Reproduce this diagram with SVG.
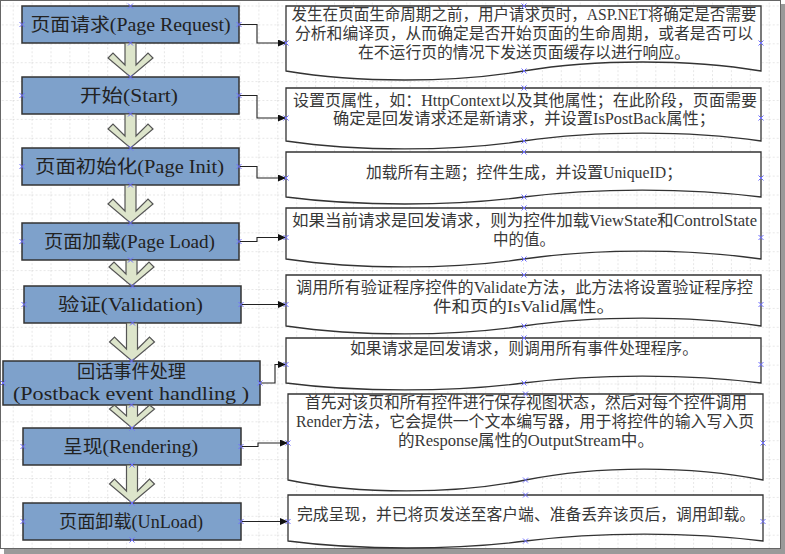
<svg xmlns="http://www.w3.org/2000/svg" xmlns:xlink="http://www.w3.org/1999/xlink" width="785" height="554" viewBox="0 0 785 554">
<defs>
<style>
.lbox{fill:#7ea1cb;stroke:#333;stroke-width:1.5}
.doc{fill:#fff;stroke:#333;stroke-width:1.3}
.barrow{fill:#dde5cb;stroke:#555;stroke-width:1.2}
.conn{fill:none;stroke:#222;stroke-width:1.1}
.lt{font-family:"Liberation Serif","Noto Sans CJK SC",serif;font-size:18px;fill:#222;text-anchor:middle}
.rt{font-family:"Liberation Serif","Noto Sans CJK SC",serif;font-size:16px;fill:#383838;text-anchor:middle}
.mk{fill:none;stroke:#6f6fff;stroke-width:1}
</style>
<pattern id="grid" patternUnits="userSpaceOnUse" x="12.7" y="5.5" width="18.9" height="18.9">
<path d="M0,0 H18.9 M0,0 V18.9" fill="none" stroke="#cfcfcf" stroke-width="1" stroke-dasharray="2 2"/>
</pattern>
<marker id="ah" markerUnits="userSpaceOnUse" markerWidth="9" markerHeight="8" refX="8" refY="3.5" orient="auto">
<path d="M0,0 L8,3.5 L0,7 z" fill="#111"/>
</marker>
<path id="x" d="M-2.5,-2.5 L2.5,2.5 M-2.5,2.5 L2.5,-2.5"/>
</defs>

<rect x="4" y="4" width="781" height="550" fill="#9a9a9a"/>
<rect x="0.5" y="0.5" width="780" height="548" fill="#fff" stroke="#666"/>
<rect x="1" y="1" width="779" height="547" fill="url(#grid)"/>

<g id="connectors">
<path class="conn" marker-end="url(#ah)" d="M239,24.5 H257 V43 H286"/>
<path class="conn" marker-end="url(#ah)" d="M239,95.5 H257 V118 H286"/>
<path class="conn" marker-end="url(#ah)" d="M239,166.5 H257 V178 H286"/>
<path class="conn" marker-end="url(#ah)" d="M239,241.5 H257 V237.5 H286"/>
<path class="conn" marker-end="url(#ah)" d="M241,304.5 H286"/>
<path class="conn" marker-end="url(#ah)" d="M260,383 H275 V364.5 H286"/>
<path class="conn" marker-end="url(#ah)" d="M241,446.5 H258 V443 H288"/>
<path class="conn" marker-end="url(#ah)" d="M241,521.5 H288"/>
</g>

<g id="step1"><rect class="lbox" x="22" y="6" width="217" height="37"/><text class="lt" x="130.5" y="31" textLength="200" lengthAdjust="spacingAndGlyphs">页面请求(Page Request)</text></g>
<g id="step2"><rect class="lbox" x="22" y="77" width="217" height="37"/><text class="lt" x="129" y="102" textLength="98" lengthAdjust="spacingAndGlyphs">开始(Start)</text></g>
<g id="step3"><rect class="lbox" x="22" y="148" width="217" height="37"/><text class="lt" x="129.5" y="172.5" textLength="189" lengthAdjust="spacingAndGlyphs">页面初始化(Page Init)</text></g>
<g id="step4"><rect class="lbox" x="22" y="223" width="217" height="37"/><text class="lt" x="129.5" y="247.5" textLength="171" lengthAdjust="spacingAndGlyphs">页面加载(Page Load)</text></g>
<g id="step5"><rect class="lbox" x="24" y="286" width="217" height="37"/><text class="lt" x="130.5" y="310.5" textLength="145" lengthAdjust="spacingAndGlyphs">验证(Validation)</text></g>
<g id="step6"><rect class="lbox" x="3" y="361" width="257" height="44"/><text class="lt" x="131.5" y="378" textLength="109" lengthAdjust="spacingAndGlyphs">回话事件处理</text><text class="lt" x="131" y="399.5" textLength="236" lengthAdjust="spacingAndGlyphs">(Postback event handling )</text></g>
<g id="step7"><rect class="lbox" x="23" y="428" width="218" height="37"/><text class="lt" x="130.5" y="453" textLength="135" lengthAdjust="spacingAndGlyphs">呈现(Rendering)</text></g>
<g id="step8"><rect class="lbox" x="23" y="503" width="218" height="37"/><text class="lt" x="131" y="527.5" textLength="144" lengthAdjust="spacingAndGlyphs">页面卸载(UnLoad)</text></g>

<g id="flow-arrows">
<polygon class="barrow" points="125,43 125,65 113,53 108,58 130.5,77 153,58 148,53 136,65 136,43"/>
<polygon class="barrow" points="125,114 125,136 113,124 108,129 130.5,148 153,129 148,124 136,136 136,114"/>
<polygon class="barrow" points="125,185 125,211 113,199 108,204 130.5,223 153,204 148,199 136,211 136,185"/>
<polygon class="barrow" points="126,260 126,274 114,262 109,267 131.5,286 154,267 149,262 137,274 137,260"/>
<polygon class="barrow" points="126.5,323 126.5,349 114.5,337 109.5,342 132,361 154.5,342 149.5,337 137.5,349 137.5,323"/>
<polygon class="barrow" points="126.5,405 126.5,416 114.5,405 109.5,409 132,428 154.5,409 149.5,405 137.5,416 137.5,405"/>
<polygon class="barrow" points="126.5,465 126.5,491 114.5,479 109.5,484 132,503 154.5,484 149.5,479 137.5,491 137.5,465"/>
</g>

<g id="desc1"><path class="doc" d="M286,6 H761 V71 C689.75,59 594.75,59 523.5,71 C452.25,83 357.25,83 286,71 Z"/>
<text class="rt" x="524" y="20" textLength="465" lengthAdjust="spacingAndGlyphs">发生在页面生命周期之前，用户请求页时，ASP.NET将确定是否需要</text>
<text class="rt" x="524" y="38.5" textLength="458" lengthAdjust="spacingAndGlyphs">分析和编译页，从而确定是否开始页面的生命周期，或者是否可以</text>
<text class="rt" x="524" y="57.5" textLength="332" lengthAdjust="spacingAndGlyphs">在不运行页的情况下发送页面缓存以进行响应。</text></g>

<g id="desc2"><path class="doc" d="M286,88 H761 V141 C689.75,130.4 594.75,130.4 523.5,141 C452.25,151.6 357.25,151.6 286,141 Z"/>
<text class="rt" x="525" y="106" textLength="464" lengthAdjust="spacingAndGlyphs">设置页属性，如：HttpContext以及其他属性；在此阶段，页面需要</text>
<text class="rt" x="524" y="124" textLength="382" lengthAdjust="spacingAndGlyphs">确定是回发请求还是新请求，并设置IsPostBack属性；</text></g>

<g id="desc3"><path class="doc" d="M286,152 H761 V197 C689.75,187.7 594.75,187.7 523.5,197 C452.25,206.3 357.25,206.3 286,197 Z"/>
<text class="rt" x="524" y="178" textLength="316" lengthAdjust="spacingAndGlyphs">加载所有主题；控件生成，并设置UniqueID；</text></g>

<g id="desc4"><path class="doc" d="M286,208 H761 V259 C689.75,248.4 594.75,248.4 523.5,259 C452.25,269.6 357.25,269.6 286,259 Z"/>
<text class="rt" x="524.5" y="226" textLength="465" lengthAdjust="spacingAndGlyphs">如果当前请求是回发请求，则为控件加载ViewState和ControlState</text>
<text class="rt" x="524" y="245" textLength="62" lengthAdjust="spacingAndGlyphs">中的值。</text></g>

<g id="desc5"><path class="doc" d="M286,275 H761 V326 C689.75,315.4 594.75,315.4 523.5,326 C452.25,336.6 357.25,336.6 286,326 Z"/>
<text class="rt" x="524.5" y="293" textLength="457" lengthAdjust="spacingAndGlyphs">调用所有验证程序控件的Validate方法，此方法将设置验证程序控</text>
<text class="rt" x="524" y="312" textLength="182" lengthAdjust="spacingAndGlyphs">件和页的IsValid属性。</text></g>

<g id="desc6"><path class="doc" d="M286,338 H761 V383 C689.75,373.7 594.75,373.7 523.5,383 C452.25,392.3 357.25,392.3 286,383 Z"/>
<text class="rt" x="524" y="354" textLength="348" lengthAdjust="spacingAndGlyphs">如果请求是回发请求，则调用所有事件处理程序。</text></g>

<g id="desc7"><path class="doc" d="M288,394 H763 V480 C691.75,465.4 596.75,465.4 525.5,480 C454.25,494.6 359.25,494.6 288,480 Z"/>
<text class="rt" x="526" y="408" textLength="442" lengthAdjust="spacingAndGlyphs">首先对该页和所有控件进行保存视图状态，然后对每个控件调用</text>
<text class="rt" x="525" y="427" textLength="458" lengthAdjust="spacingAndGlyphs">Render方法，它会提供一个文本编写器，用于将控件的输入写入页</text>
<text class="rt" x="526" y="446" textLength="256" lengthAdjust="spacingAndGlyphs">的Response属性的OutputStream中。</text></g>

<g id="desc8"><path class="doc" d="M288,495 H763 V541 C691.75,531.7 596.75,531.7 525.5,541 C454.25,550.3 359.25,550.3 288,541 Z"/>
<text class="rt" x="526" y="520" textLength="458" lengthAdjust="spacingAndGlyphs">完成呈现，并已将页发送至客户端、准备丢弃该页后，调用卸载。</text></g>

<g id="connection-points" class="mk">
<use xlink:href="#x" x="130.5" y="6"/><use xlink:href="#x" x="130.5" y="43"/><use xlink:href="#x" x="22" y="24.5"/><use xlink:href="#x" x="239" y="24.5"/>
<use xlink:href="#x" x="130.5" y="77"/><use xlink:href="#x" x="130.5" y="114"/><use xlink:href="#x" x="22" y="95.5"/><use xlink:href="#x" x="239" y="95.5"/>
<use xlink:href="#x" x="130.5" y="148"/><use xlink:href="#x" x="130.5" y="185"/><use xlink:href="#x" x="22" y="166.5"/><use xlink:href="#x" x="239" y="166.5"/>
<use xlink:href="#x" x="130.5" y="223"/><use xlink:href="#x" x="130.5" y="260"/><use xlink:href="#x" x="22" y="241.5"/><use xlink:href="#x" x="239" y="241.5"/>
<use xlink:href="#x" x="132.5" y="286"/><use xlink:href="#x" x="132.5" y="323"/><use xlink:href="#x" x="24" y="304.5"/><use xlink:href="#x" x="241" y="304.5"/>
<use xlink:href="#x" x="131.5" y="361"/><use xlink:href="#x" x="131.5" y="405"/><use xlink:href="#x" x="3" y="383"/><use xlink:href="#x" x="260" y="383"/>
<use xlink:href="#x" x="132" y="428"/><use xlink:href="#x" x="132" y="465"/><use xlink:href="#x" x="23" y="446.5"/><use xlink:href="#x" x="241" y="446.5"/>
<use xlink:href="#x" x="132" y="503"/><use xlink:href="#x" x="132" y="540"/><use xlink:href="#x" x="23" y="521.5"/><use xlink:href="#x" x="241" y="521.5"/>
<use xlink:href="#x" x="524" y="6"/><use xlink:href="#x" x="524" y="71"/><use xlink:href="#x" x="286" y="43"/><use xlink:href="#x" x="761" y="43"/>
<use xlink:href="#x" x="524" y="88"/><use xlink:href="#x" x="524" y="141"/><use xlink:href="#x" x="286" y="118"/><use xlink:href="#x" x="761" y="118"/>
<use xlink:href="#x" x="524" y="152"/><use xlink:href="#x" x="524" y="197"/><use xlink:href="#x" x="286" y="178"/><use xlink:href="#x" x="761" y="178"/>
<use xlink:href="#x" x="524" y="208"/><use xlink:href="#x" x="524" y="259"/><use xlink:href="#x" x="286" y="237.5"/><use xlink:href="#x" x="761" y="237.5"/>
<use xlink:href="#x" x="524" y="275"/><use xlink:href="#x" x="524" y="326"/><use xlink:href="#x" x="286" y="304.5"/><use xlink:href="#x" x="761" y="304.5"/>
<use xlink:href="#x" x="524" y="338"/><use xlink:href="#x" x="524" y="383"/><use xlink:href="#x" x="286" y="364.5"/><use xlink:href="#x" x="761" y="364.5"/>
<use xlink:href="#x" x="525.5" y="394"/><use xlink:href="#x" x="525.5" y="480"/><use xlink:href="#x" x="288" y="443"/><use xlink:href="#x" x="763" y="443"/>
<use xlink:href="#x" x="525.5" y="495"/><use xlink:href="#x" x="525.5" y="541"/><use xlink:href="#x" x="288" y="521.5"/><use xlink:href="#x" x="763" y="521.5"/>
</g>
</svg>
